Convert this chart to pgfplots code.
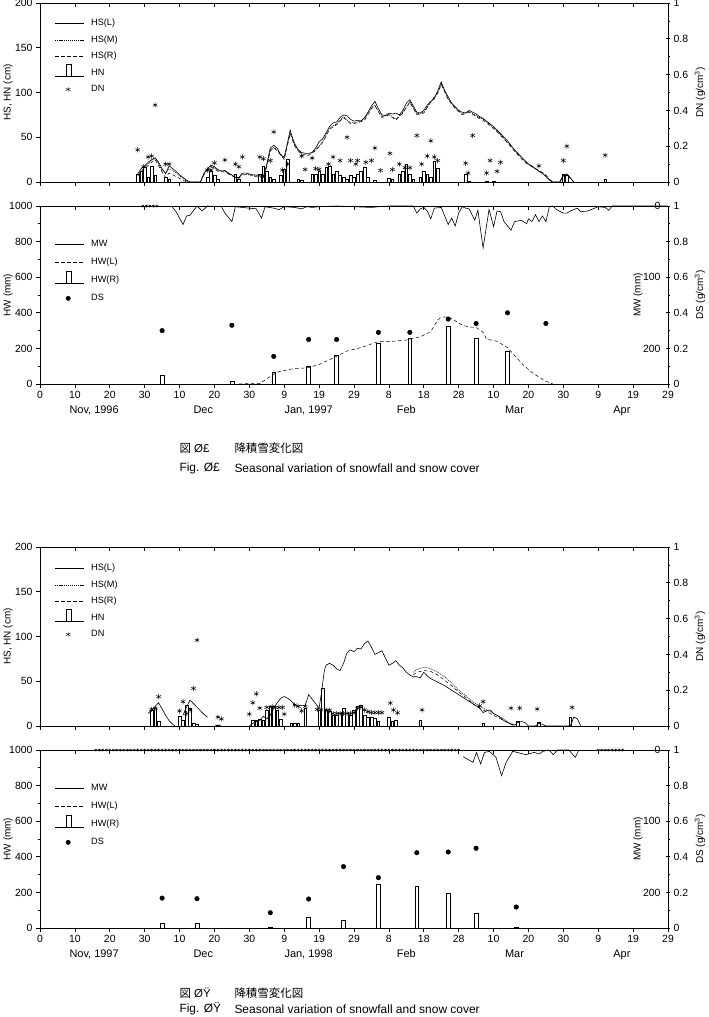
\documentclass[border=0pt]{standalone}
\usepackage{pgfplots}
\pgfplotsset{compat=1.18}
\usepackage{fontspec}
\setmainfont{Liberation Sans}
\newfontfamily\jp{Noto Sans CJK JP}
\tikzset{
  lineL/.style={black, line width=0.6bp},
  lineM/.style={black, line width=0.5bp, dash pattern=on 1.2bp off 0.9bp},
  lineR/.style={black, line width=0.5bp, dash pattern=on 3.5bp off 2.5bp},
}
\pgfplotsset{
  common/.style={scale only axis, width=628bp, xmin=0, xmax=180,
    xtick={0,10,...,180},
    /pgf/number format/assume math mode=true,
    /pgf/number format/1000 sep={},
    tick label style={font=\fontsize{10.5}{12}\selectfont, black},
    label style={font=\fontsize{10}{12}\selectfont},
    axis line style={line width=0.8bp},
    every tick/.style={black, line width=0.7bp},
    major tick length=4bp, minor tick length=2.5bp,
    unbounded coords=jump},
  mainleft/.style={axis x line*=bottom, axis y line*=left, tick align=outside,
    every axis y label/.style={at={(rel axis cs:0,0.5)}, xshift=-32bp, rotate=90, anchor=center},
    legend cell align=left,
    legend style={draw=none, fill=none, at={(rel axis cs:0,1)}, anchor=north west,
      font=\fontsize{9.2}{10}\selectfont, row sep=1.5bp, inner sep=0pt}},
  rightdens/.style={axis x line*=top, axis y line*=right, tick align=inside,
    ymin=0, ymax=1, ytick={0,0.2,0.4,0.6,0.8,1}, minor ytick={0.1,0.3,0.5,0.7,0.9},
    y tick style={xshift=2bp}, yticklabel style={xshift=2bp},
    xticklabels={},
    every axis y label/.style={at={(rel axis cs:1,0.5)}, xshift=32bp, rotate=90, anchor=center}},
  mwax/.style={axis x line=none, axis y line*=right, y dir=reverse, ymin=0, ymax=250,
    ytick={0,100,200}, major tick length=0bp, clip=false,
    yticklabel style={anchor=east, xshift=-4bp},
    every axis y label/.style={at={(rel axis cs:1,0.5)}, xshift=-30bp, rotate=90, anchor=center}},
  barst/.style={ybar, bar shift=0pt, fill=white, draw=black, line width=0.5bp, forget plot},
  monthx/.style={extra x ticks={15.5,46.8,77,105,136,166.8},
    extra x tick style={major tick length=0bp, tick label style={yshift=-18bp, font=\fontsize{11}{13}\selectfont}}},
}
\newcommand{\legbox}{\pgfpathrectangle{\pgfpoint{0bp}{-6bp}}{\pgfpoint{34bp}{15bp}}\pgfusepath{use as bounding box}}
\newcommand{\legline}[1]{\addlegendimage{legend image code/.code={\legbox\draw[#1] (0bp,0bp) -- (29bp,0bp);}}}
\newcommand{\legbar}{\addlegendimage{legend image code/.code={\legbox\draw[line width=0.6bp] (0bp,-3bp) -- (29bp,-3bp); \draw[fill=white, line width=0.6bp] (11.5bp,-3bp) rectangle (16.5bp,8.5bp);}}}
\newcommand{\legmark}[1]{\addlegendimage{legend image code/.code={\legbox\draw[only marks, #1] plot coordinates {(13bp,0bp)};}}}
\begin{document}
\begin{tikzpicture}[x=1bp,y=1bp]
\path[use as bounding box] (0,0) rectangle (709,-1017);

%================= PANEL 1 TOP =================
\begin{axis}[common, mainleft, at={(40bp,-3bp)}, anchor=north west, height=179bp,
  ymin=0, ymax=200, ytick={0,50,100,150,200}, xticklabels={},
  ylabel={HS, HN (cm)},
  legend style={xshift=15bp, yshift=-11bp}]
\legline{lineL}\addlegendentry{HS(L)}
\legline{lineM}\addlegendentry{HS(M)}
\legline{lineR}\addlegendentry{HS(R)}
\legbar\addlegendentry{HN}
\legmark{mark=asterisk, mark size=2.6bp}\addlegendentry{DN}
\addplot[barst, bar width=0.75] coordinates {
(28,9)(29,12)(30,16)(31,5)(32,18)(33,7)(36,5)(37,3)
(48,5)(49,12)(50,8)(51,3)(56,9)(57,3)(63,9)(64,18)(65,12)(66,5)(67,3)
(69,7)(70,14)(71,25)(74,3)(75,2)(78,9)(79,9)(80,12)(81,9)(82,16)(83,18)
(84,9)(85,12)(86,7)(87,5)(88,3)(89,7)(90,5)(91,9)(92,12)(93,16)(94,5)(96,2)
(100,4)(101,3)(103,9)(104,12)(105,20)(106,9)(107,3)(109,5)(110,12)(111,9)
(112,5)(113,23)(114,15)(122,9)(123,1)(128,1)(130,1)(150,9)(151,8)(162,3)};
\addplot[lineR, forget plot] coordinates {
(28,7)(30,15)(32,22)(33,25)(34,18)(35,11)(36,5)(37,10)(38,8)(40,4)(42,0)
(46,0)(47,8)(49,17)(51,12)(53,11)(55,7)(57,4)(58,8)(60,8)(62,6)(64,5)(65,17)
(66,35)(67,38)(68,35)(70,25)(71,42)(71.7,54)(73,40)(75,30)(77,30)(79,35)(81,44)
(83,59)(85,64)(87,72)(89,65)(91,66)(93,69)(95,82)(96,85)(98,72)(100,75)(102,69)
(104,77)(106,89)(108,75)(110,77)(112,89)(114,99)(115,109)(117,92)(119,82)
(121,75)(123,78)(125,73)(127,69)(129,63)(131,56)(133,48)(135,39)(137,30)
(139,22)(141,17)(143,13)(145,8)(146,3)(147,0)(149,0)(150,7)(151,8)(152,4)(153,0)};
\addplot[lineM, forget plot] coordinates {
(28,8)(30,17)(32,24)(33,26)(34,20)(35,13)(36,10)(37,15)(38,13)(40,7)(42,1)(43,0)
(46,0)(47,9)(49,18)(51,13)(53,12)(55,7)(57,4)(58,9)(60,8)(62,7)(64,5)(65,18)
(66,36)(67,39)(68,36)(70,26)(71,43)(71.7,55)(73,41)(75,31)(77,30)(79,36)(81,45)
(83,60)(85,65)(87,73)(89,66)(91,67)(93,70)(95,83)(96,86)(98,73)(100,76)(102,70)
(104,78)(106,90)(108,76)(110,78)(112,90)(114,100)(115,110)(117,93)(119,83)
(121,76)(123,79)(125,74)(127,70)(129,64)(131,57)(133,49)(135,40)(137,31)
(139,23)(141,17)(143,12)(145,7)(146,3)(147,0)(149,0)(150,7)(151,8)(152,4)(153,0)};
\addplot[lineL, forget plot] coordinates {
(28,9)(29,15)(30,18)(31,22)(32,25)(33,27)(34,22)(35,15)(36,9)(37,18)(38,15)
(39,12)(40,8)(41,5)(42,2)(43,0)(46,0)
(47,10)(48,15)(49,19)(50,17)(51,14)(52,12)(53,13)(54,10)(55,8)(56,5)(57,5)
(58,10)(59,10)(60,9)(61,8)(62,8)(63,7)(64,6)(65,20)(66,38)(67,41)(68,38)
(69,30)(70,28)(71,45)(71.7,58)(72.5,48)(73,43)(74,36)(75,33)(76,32)(77,32)
(78,33)(79,38)(80,45)(81,48)(82,55)(83,62)(84,66)(85,67)(86,72)(87,75)(88,74)
(89,70)(90,68)(91,69)(92,68)(93,72)(94,78)(95,85)(96,90)(97,82)(98,75)(99,74)
(100,77)(101,76)(102,77)(103,75)(104,80)(105,88)(106,92)(107,85)(108,78)
(109,77)(110,80)(111,86)(112,90)(113,93)(114,102)(115,112)(116,102)(117,95)
(118,88)(119,84)(120,80)(121,78)(122,77)(123,80)(124,78)(125,76)(126,73)
(127,71)(128,68)(129,65)(130,62)(131,58)(132,54)(133,50)(134,46)(135,41)
(136,36)(137,32)(138,28)(139,24)(140,20)(141,18)(142,15)(143,12)(144,10)
(145,6)(146,2)(147,0)(149,0)(150,8)(151,9)(152,5)(153,0)};
\end{axis}
\begin{axis}[common, rightdens, at={(40bp,-3bp)}, anchor=north west, height=179bp,
  ylabel={DN (g/cm\textsuperscript{3})}]
\addplot[only marks, mark=asterisk, mark size=2.6bp, black, line width=0.5bp] coordinates {
(28,0.18)(29.7,0.085)(31,0.14)(32,0.145)(33,0.43)(36,0.10)(37,0.10)
(48,0.067)(49,0.067)(50,0.107)(53,0.123)(56,0.10)(57,0.085)(58,0.14)
(63,0.14)(64,0.13)(66,0.12)(67,0.28)(69.5,0.067)(71,0.10)(75,0.145)(76,0.07)
(78,0.134)(79,0.075)(80,0.07)(82.7,0.10)(84,0.14)(86,0.12)(88,0.25)(89,0.12)
(90.5,0.10)(91,0.12)(93.4,0.11)(95,0.12)(96,0.19)(97.6,0.065)(100.3,0.16)
(101,0.07)(103,0.10)(104.6,0.08)(106,0.08)(108,0.26)(109.4,0.10)(111,0.145)
(112,0.23)(113,0.14)(114,0.12)(122,0.105)(122.7,0.05)(124,0.26)(128,0.05)
(129,0.12)(131,0.06)(132,0.11)(143,0.09)(150,0.12)(151,0.20)(162,0.15)};
\end{axis}

%================= PANEL 1 BOTTOM =================
\begin{axis}[common, mainleft, monthx, at={(40bp,-206bp)}, anchor=north west, height=178bp,
  ymin=0, ymax=1000, ytick={0,200,400,600,800,1000}, minor ytick={100,300,500,700,900},
  xticklabels={0,10,20,30,10,20,30,9,19,29,8,18,28,10,20,30,9,19,29},
  extra x tick labels={{Nov, 1996},Dec,{Jan, 1997},Feb,Mar,Apr},
  ylabel={HW (mm)},
  legend style={xshift=15bp, yshift=-29bp, row sep=3bp}]
\legline{lineL}\addlegendentry{MW}
\legline{lineR}\addlegendentry{HW(L)}
\legbar\addlegendentry{HW(R)}
\legmark{mark=*, mark size=2.2bp}\addlegendentry{DS}
\addplot[barst, bar width=1.1] coordinates {
(35,47)(55,15)(67,67)(77,97)(85,159)(97,230)(106,258)(117,326)(125,258)(134,185)};
\addplot[lineR, forget plot] coordinates {
(57,0)(60,3)(63,2)(65,30)(68,67)(72,84)(77,92)(80,110)(84,146)(88,185)(92,205)
(97,238)(101,240)(105,247)(109,265)(112,294)(114,360)(115,375)(117,378)
(119,355)(121,331)(123,320)(125,318)(127,290)(128,252)(131,240)(134,205)
(136,160)(138.5,107)(141,65)(143,39)(145,15)(147,0)};
\end{axis}
\begin{axis}[common, rightdens, at={(40bp,-206bp)}, anchor=north west, height=178bp,
  ylabel={DS (g/cm\textsuperscript{3})}]
\addplot[only marks, mark=*, mark size=2.3bp, black] coordinates {
(35,0.30)(55,0.33)(67,0.155)(77,0.25)(85,0.25)(97,0.29)(106,0.29)(117,0.365)
(125,0.34)(134,0.40)(145,0.34)};
\end{axis}
\begin{axis}[common, mwax, at={(40bp,-206bp)}, anchor=north west, height=178bp,
  ylabel={MW (mm)}]
\addplot[lineL] coordinates {
(37.7,0)(39,8)(41,26)(42,14)(43,13)(45,0)(46.5,7)(48,0)(52,1)(53,10)(55,22)
(56,1)(58,2)(60,3)(62,4)(63.5,17)(64.5,1)(67,3)(68.5,5)(70,1)(73,2)(75,4)
(76.5,1)(78,2)(80,1)(85,0)(90,1)(95,2)(97,1)(100,0)(107,0)(108,10)(109,4)
(110,2)(111,7)(112,18)(113,3)(115,2)(117,26)(118,17)(119,28)(120,10)(121,1)
(122,3)(123,4)(124.6,20)(125.5,6)(127,59)(128.7,5)(129,10)(130,29)(131,7)
(132,8)(133,22)(135,34)(136,22)(138,20)(139.5,25)(140,18)(141,22)(142,12)
(143,22)(144,14)(145,22)(146,1)(147,0)(148,5)(150,10)(151,10)(152,7)(154,3)
(155,8)(157,7)(158,5)(160,1)(162,2)(163,6)(164,0)(180,0)};
\addplot[only marks, mark=asterisk, mark size=1.5bp, black, line width=0.4bp] coordinates {
(29.5,0)(30.5,0)(31.5,0)(32.5,0)(33.5,0)};
\end{axis}
\node[anchor=west, font=\fontsize{11.5}{13}\selectfont] at (176,-448) {{\jp 図} Ø£};
\node[anchor=west, font=\jp\fontsize{11.5}{13}\selectfont] at (231,-448) {降積雪変化図};
\node[anchor=west, font=\fontsize{12}{14}\selectfont] at (176,-468) {Fig. Ø£};
\node[anchor=west, font=\fontsize{12}{14}\selectfont] at (231,-468) {Seasonal variation of snowfall and snow cover};

%================= PANEL 2 TOP =================
\begin{axis}[common, mainleft, at={(40bp,-547bp)}, anchor=north west, height=179bp,
  ymin=0, ymax=200, ytick={0,50,100,150,200}, xticklabels={},
  ylabel={HS, HN (cm)},
  legend style={xshift=15bp, yshift=-12bp}]
\legline{lineL}\addlegendentry{HS(L)}
\legline{lineM}\addlegendentry{HS(M)}
\legline{lineR}\addlegendentry{HS(R)}
\legbar\addlegendentry{HN}
\legmark{mark=asterisk, mark size=2.6bp}\addlegendentry{DN}
\addplot[barst, bar width=0.75] coordinates {
(32,18)(33,20)(34,5)(40,11)(41,6)(42,23)(43,20)(44,3)(45,2)(51,1)
(61,7)(62,7)(63,8)(64,7)(65,18)(66,22)(67,22)(68,18)(69,8)(72,3)(73,3)(74,3)
(76,20)(80,18)(81,42)(82,18)(83,16)(84,12)(85,12)(86,14)(87,20)(88,14)(89,12)
(90,18)(91,22)(92,23)(93,12)(94,10)(95,10)(96,9)(97,5)(100,10)(101,5)(102,6)
(109,6)(127,3)(137,5)(143,4)(152,10)};
\addplot[lineR, forget plot] coordinates {
(107,57)(108,60)(110,62)(112,61)(114,57)(116,51)(118,45)(120,38)(122,32)
(124,25)(126,20)(128,16)(130,12)(132,8)(134,4)(136,0)};
\addplot[lineM, forget plot] coordinates {
(107,60)(108,63)(110,66)(112,64)(114,60)(116,55)(118,48)(120,40)(122,34)
(124,27)(126,22)(128,18)(130,14)(132,10)(134,5)(136,1)};
\addplot[lineL, forget plot] coordinates {
(31,14)(32,18)(33,22)(34,26)(35,19)(36,12)(37,6)(38,2)(38.7,0)(39.5,nan)
(41,12)(41.6,18)(42.5,25)(43,29)(44,25)(45,21)(46,17)(47,13)(48,10)(49,nan)
(50,1)(52,1)(53,nan)
(60,0)(61,3)(62,5)(63,6)(64,11)(65,8)(66,12)(67,20)(68,26)(69,31)(70,33)
(71,31)(72,28)(73,24)(74,22)(75,23)(76,23)(77,35)(78,30)(79,25)(80,20)
(80.7,38)(81.5,62)(82,68)(83,70)(84,68)(85,64)(86,62)(87,70)(88,82)(89,85)
(90,83)(91,87)(92,86)(93,92)(94,95)(95,88)(96,80)(97,82)(98,84)(99,76)
(100,68)(101,70)(102,73)(103,68)(104,65)(105,60)(106,57)(107,55)(108,55)
(109,54)(110,60)(111,56)(112,53)(114,49)(116,45)(118,40)(120,35)(122,30)
(124,25)(126,20)(127,15)(128,17)(129,18)(130,14)(131,12)(132,9)(133,6)
(134,4)(135,2)(136,1)(137,4)(138,5)(139,4)(140,0)(142,0)(143,3)(144,2)
(145,0)(152,0)(153,10)(154,8)(155,0)};
\end{axis}
\begin{axis}[common, rightdens, at={(40bp,-547bp)}, anchor=north west, height=179bp,
  ylabel={DN (g/cm\textsuperscript{3})}]
\addplot[only marks, mark=asterisk, mark size=2.6bp, black, line width=0.5bp] coordinates {
(32,0.093)(33,0.10)(34,0.164)(40,0.084)(41,0.136)(42,0.07)(43,0.09)(44,0.21)
(45,0.48)(51,0.05)(52,0.04)(60,0.067)(61,0.13)(62,0.18)(63,0.10)(65,0.104)
(66.5,0.108)(67.5,0.104)(68.5,0.104)(69.5,0.104)(70,0.067)(73,0.117)(74,0.11)
(75,0.085)(76,0.11)(79.5,0.093)(80.5,0.09)(82,0.09)(83,0.088)(84,0.07)
(85,0.07)(86,0.07)(87,0.07)(88,0.07)(89,0.07)(90,0.075)(91,0.10)(92,0.105)
(93,0.09)(94,0.08)(95,0.075)(96,0.075)(97,0.075)(98,0.075)(100.4,0.128)
(101.3,0.09)(102.5,0.074)(109.5,0.09)(126,0.113)(127,0.136)(135,0.10)
(137.5,0.10)(142.5,0.095)(152.5,0.104)};
\end{axis}

%================= PANEL 2 BOTTOM =================
\begin{axis}[common, mainleft, monthx, at={(40bp,-750bp)}, anchor=north west, height=178bp,
  ymin=0, ymax=1000, ytick={0,200,400,600,800,1000}, minor ytick={100,300,500,700,900},
  xticklabels={0,10,20,30,10,20,30,9,19,29,8,18,28,10,20,30,9,19,29},
  extra x tick labels={{Nov, 1997},Dec,{Jan, 1998},Feb,Mar,Apr},
  ylabel={HW (mm)},
  legend style={xshift=15bp, yshift=-29bp, row sep=3bp}]
\legline{lineL}\addlegendentry{MW}
\legline{lineR}\addlegendentry{HW(L)}
\legbar\addlegendentry{HW(R)}
\legmark{mark=*, mark size=2.2bp}\addlegendentry{DS}
\addplot[barst, bar width=1.1] coordinates {
(35,28)(45,25)(66,5)(77,62)(87,41)(97,247)(108,236)(117,197)(125,84)(136.5,3)};
\end{axis}
\begin{axis}[common, rightdens, at={(40bp,-750bp)}, anchor=north west, height=178bp,
  ylabel={DS (g/cm\textsuperscript{3})}]
\addplot[only marks, mark=*, mark size=2.3bp, black] coordinates {
(35,0.168)(45,0.165)(66,0.086)(77,0.163)(87,0.345)(97,0.283)(108,0.423)
(117,0.427)(125,0.448)(136.5,0.118)};
\end{axis}
\begin{axis}[common, mwax, at={(40bp,-750bp)}, anchor=north west, height=178bp,
  ylabel={MW (mm)}]
\addplot[lineL] coordinates {
(121.3,9.4)(124.1,17.3)(125.1,3.3)(126.3,19.7)(127.4,3.3)(128.8,1.9)(130.7,10.3)
(132.3,36)(133.6,17.3)(135.5,1.9)(139.3,6.5)(141.7,3.3)(143.1,5.6)(144.1,1.9)
(145.9,0)(147.1,6.5)(148.3,0)(151.6,0)(153.4,10.3)(154.5,0)};
\addplot[only marks, mark=asterisk, mark size=1.5bp, black, line width=0.4bp] coordinates {
(16,0)(17,0)(18,0)(19,0)(20,0)(21,0)(22,0)(23,0)(24,0)(25,0)(26,0)(27,0)(28,0)
(29,0)(30,0)(31,0)(32,0)(33,0)(34,0)(35,0)(36,0)(37,0)(38,0)(39,0)(40,0)(41,0)
(42,0)(43,0)(44,0)(45,0)(46,0)(47,0)(48,0)(49,0)(50,0)(51,0)(52,0)(53,0)(54,0)
(55,0)(56,0)(57,0)(58,0)(59,0)(60,0)(61,0)(62,0)(63,0)(64,0)(65,0)(66,0)(67,0)
(68,0)(69,0)(70,0)(71,0)(72,0)(73,0)(74,0)(75,0)(76,0)(77,0)(78,0)(79,0)(80,0)
(81,0)(82,0)(83,0)(84,0)(85,0)(86,0)(87,0)(88,0)(89,0)(90,0)(91,0)(92,0)(93,0)
(94,0)(95,0)(96,0)(97,0)(98,0)(99,0)(100,0)(101,0)(102,0)(103,0)(104,0)(105,0)
(106,0)(107,0)(108,0)(109,0)(110,0)(111,0)(112,0)(113,0)(114,0)(115,0)(116,0)
(117,0)(118,0)(119,0)(120,0)
(160,0)(161,0)(162,0)(163,0)(164,0)(165,0)(166,0)(167,0)};
\end{axis}
\node[anchor=west, font=\fontsize{11.5}{13}\selectfont] at (176,-993) {{\jp 図} ØŸ};
\node[anchor=west, font=\jp\fontsize{11.5}{13}\selectfont] at (231,-993) {降積雪変化図};
\node[anchor=west, font=\fontsize{12}{14}\selectfont] at (176,-1009) {Fig. ØŸ};
\node[anchor=west, font=\fontsize{12}{14}\selectfont] at (231,-1009) {Seasonal variation of snowfall and snow cover};
\end{tikzpicture}
\end{document}
